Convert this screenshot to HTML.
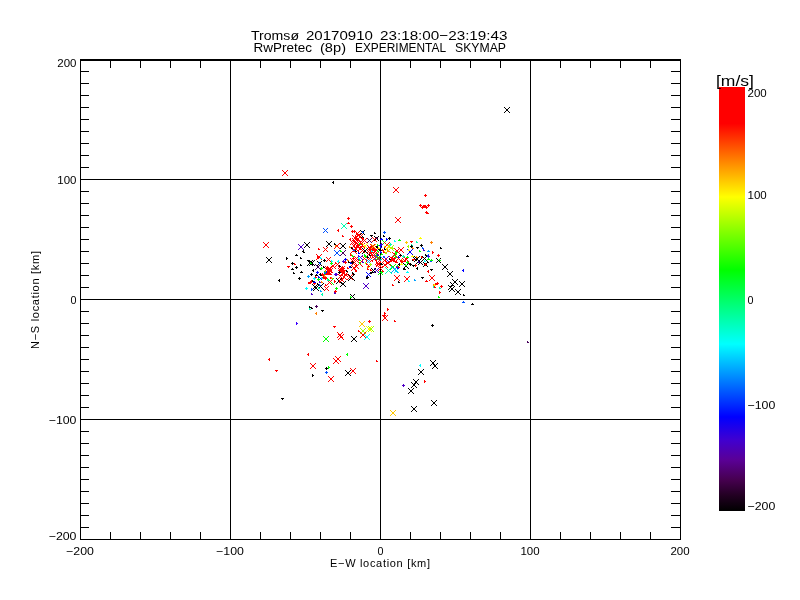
<!DOCTYPE html>
<html><head><meta charset="utf-8"><title>Tromsø skymap</title>
<style>html,body{margin:0;padding:0;background:#fff}svg{display:block}text{font-family:"Liberation Sans",sans-serif;fill:#000}</style></head><body>
<svg width="800" height="600" viewBox="0 0 800 600">
<rect width="800" height="600" fill="#fff"/>
<defs><linearGradient id="cb" x1="0" y1="0" x2="0" y2="1">
<stop offset="0.0000" stop-color="#ff0000"/>
<stop offset="0.0861" stop-color="#ff0000"/>
<stop offset="0.1722" stop-color="#ff8000"/>
<stop offset="0.2594" stop-color="#ffff00"/>
<stop offset="0.3443" stop-color="#80ff00"/>
<stop offset="0.4316" stop-color="#00ff00"/>
<stop offset="0.5189" stop-color="#00ff80"/>
<stop offset="0.6061" stop-color="#00ffff"/>
<stop offset="0.6910" stop-color="#0080ff"/>
<stop offset="0.7783" stop-color="#0000ff"/>
<stop offset="0.8325" stop-color="#4000d0"/>
<stop offset="0.8797" stop-color="#5a0096"/>
<stop offset="0.9269" stop-color="#46004f"/>
<stop offset="0.9623" stop-color="#230023"/>
<stop offset="1.0000" stop-color="#000000"/>
</linearGradient></defs>
<rect x="719" y="87" width="26" height="424" fill="url(#cb)"/>
<g fill="#000" shape-rendering="crispEdges">
<rect x="80" y="59" width="601" height="2"/>
<rect x="80" y="539" width="601" height="1"/>
<rect x="80" y="59" width="1" height="481"/>
<rect x="680" y="59" width="1" height="481"/>
<rect x="230" y="59" width="1" height="481"/>
<rect x="380" y="59" width="1" height="481"/>
<rect x="530" y="59" width="1" height="481"/>
<rect x="80" y="179" width="601" height="1"/>
<rect x="80" y="299" width="601" height="1"/>
<rect x="80" y="419" width="601" height="1"/>
<rect x="110" y="532" width="1" height="7"/>
<rect x="110" y="61" width="1" height="7"/>
<rect x="140" y="532" width="1" height="7"/>
<rect x="140" y="61" width="1" height="7"/>
<rect x="170" y="532" width="1" height="7"/>
<rect x="170" y="61" width="1" height="7"/>
<rect x="200" y="532" width="1" height="7"/>
<rect x="200" y="61" width="1" height="7"/>
<rect x="260" y="532" width="1" height="7"/>
<rect x="260" y="61" width="1" height="7"/>
<rect x="290" y="532" width="1" height="7"/>
<rect x="290" y="61" width="1" height="7"/>
<rect x="320" y="532" width="1" height="7"/>
<rect x="320" y="61" width="1" height="7"/>
<rect x="350" y="532" width="1" height="7"/>
<rect x="350" y="61" width="1" height="7"/>
<rect x="410" y="532" width="1" height="7"/>
<rect x="410" y="61" width="1" height="7"/>
<rect x="440" y="532" width="1" height="7"/>
<rect x="440" y="61" width="1" height="7"/>
<rect x="470" y="532" width="1" height="7"/>
<rect x="470" y="61" width="1" height="7"/>
<rect x="500" y="532" width="1" height="7"/>
<rect x="500" y="61" width="1" height="7"/>
<rect x="560" y="532" width="1" height="7"/>
<rect x="560" y="61" width="1" height="7"/>
<rect x="590" y="532" width="1" height="7"/>
<rect x="590" y="61" width="1" height="7"/>
<rect x="620" y="532" width="1" height="7"/>
<rect x="620" y="61" width="1" height="7"/>
<rect x="650" y="532" width="1" height="7"/>
<rect x="650" y="61" width="1" height="7"/>
<rect x="81" y="71" width="8" height="1"/>
<rect x="671" y="71" width="9" height="1"/>
<rect x="81" y="83" width="8" height="1"/>
<rect x="671" y="83" width="9" height="1"/>
<rect x="81" y="95" width="8" height="1"/>
<rect x="671" y="95" width="9" height="1"/>
<rect x="81" y="107" width="8" height="1"/>
<rect x="671" y="107" width="9" height="1"/>
<rect x="81" y="119" width="8" height="1"/>
<rect x="671" y="119" width="9" height="1"/>
<rect x="81" y="131" width="8" height="1"/>
<rect x="671" y="131" width="9" height="1"/>
<rect x="81" y="143" width="8" height="1"/>
<rect x="671" y="143" width="9" height="1"/>
<rect x="81" y="155" width="8" height="1"/>
<rect x="671" y="155" width="9" height="1"/>
<rect x="81" y="167" width="8" height="1"/>
<rect x="671" y="167" width="9" height="1"/>
<rect x="81" y="191" width="8" height="1"/>
<rect x="671" y="191" width="9" height="1"/>
<rect x="81" y="203" width="8" height="1"/>
<rect x="671" y="203" width="9" height="1"/>
<rect x="81" y="215" width="8" height="1"/>
<rect x="671" y="215" width="9" height="1"/>
<rect x="81" y="227" width="8" height="1"/>
<rect x="671" y="227" width="9" height="1"/>
<rect x="81" y="239" width="8" height="1"/>
<rect x="671" y="239" width="9" height="1"/>
<rect x="81" y="251" width="8" height="1"/>
<rect x="671" y="251" width="9" height="1"/>
<rect x="81" y="263" width="8" height="1"/>
<rect x="671" y="263" width="9" height="1"/>
<rect x="81" y="275" width="8" height="1"/>
<rect x="671" y="275" width="9" height="1"/>
<rect x="81" y="287" width="8" height="1"/>
<rect x="671" y="287" width="9" height="1"/>
<rect x="81" y="311" width="8" height="1"/>
<rect x="671" y="311" width="9" height="1"/>
<rect x="81" y="323" width="8" height="1"/>
<rect x="671" y="323" width="9" height="1"/>
<rect x="81" y="335" width="8" height="1"/>
<rect x="671" y="335" width="9" height="1"/>
<rect x="81" y="347" width="8" height="1"/>
<rect x="671" y="347" width="9" height="1"/>
<rect x="81" y="359" width="8" height="1"/>
<rect x="671" y="359" width="9" height="1"/>
<rect x="81" y="371" width="8" height="1"/>
<rect x="671" y="371" width="9" height="1"/>
<rect x="81" y="383" width="8" height="1"/>
<rect x="671" y="383" width="9" height="1"/>
<rect x="81" y="395" width="8" height="1"/>
<rect x="671" y="395" width="9" height="1"/>
<rect x="81" y="407" width="8" height="1"/>
<rect x="671" y="407" width="9" height="1"/>
<rect x="81" y="431" width="8" height="1"/>
<rect x="671" y="431" width="9" height="1"/>
<rect x="81" y="443" width="8" height="1"/>
<rect x="671" y="443" width="9" height="1"/>
<rect x="81" y="455" width="8" height="1"/>
<rect x="671" y="455" width="9" height="1"/>
<rect x="81" y="467" width="8" height="1"/>
<rect x="671" y="467" width="9" height="1"/>
<rect x="81" y="479" width="8" height="1"/>
<rect x="671" y="479" width="9" height="1"/>
<rect x="81" y="491" width="8" height="1"/>
<rect x="671" y="491" width="9" height="1"/>
<rect x="81" y="503" width="8" height="1"/>
<rect x="671" y="503" width="9" height="1"/>
<rect x="81" y="515" width="8" height="1"/>
<rect x="671" y="515" width="9" height="1"/>
<rect x="81" y="527" width="8" height="1"/>
<rect x="671" y="527" width="9" height="1"/>
</g>
<text x="251" y="39.5" font-size="13" textLength="48" lengthAdjust="spacingAndGlyphs">Tromsø</text>
<text x="306" y="39.5" font-size="13" textLength="67" lengthAdjust="spacingAndGlyphs">20170910</text>
<text x="380" y="39.5" font-size="13" textLength="127.5" lengthAdjust="spacingAndGlyphs">23:18:00−23:19:43</text>
<text x="253.5" y="52" font-size="13" textLength="58.5" lengthAdjust="spacingAndGlyphs">RwPretec</text>
<text x="320" y="52" font-size="13" textLength="26" lengthAdjust="spacingAndGlyphs">(8p)</text>
<text x="355" y="52" font-size="13" textLength="91" lengthAdjust="spacingAndGlyphs">EXPERIMENTAL</text>
<text x="455" y="52" font-size="13" textLength="51" lengthAdjust="spacingAndGlyphs">SKYMAP</text>
<text x="380" y="567" font-size="11" text-anchor="middle" textLength="100" lengthAdjust="spacing">E−W location [km]</text>
<text transform="translate(39,300) rotate(-90)" font-size="11" text-anchor="middle" textLength="98" lengthAdjust="spacing">N−S location [km]</text>
<text x="66.1" y="555" font-size="11" textLength="27.8" lengthAdjust="spacingAndGlyphs">−200</text>
<text x="216.1" y="555" font-size="11" textLength="27.8" lengthAdjust="spacingAndGlyphs">−100</text>
<text x="377.5" y="555" font-size="11" textLength="6.0" lengthAdjust="spacingAndGlyphs">0</text>
<text x="520.4" y="555" font-size="11" textLength="19.2" lengthAdjust="spacingAndGlyphs">100</text>
<text x="670.4" y="555" font-size="11" textLength="19.2" lengthAdjust="spacingAndGlyphs">200</text>
<text x="57.3" y="67" font-size="11" textLength="19.2" lengthAdjust="spacingAndGlyphs">200</text>
<text x="57.3" y="184" font-size="11" textLength="19.2" lengthAdjust="spacingAndGlyphs">100</text>
<text x="70.5" y="303.5" font-size="11" textLength="6.0" lengthAdjust="spacingAndGlyphs">0</text>
<text x="48.7" y="424" font-size="11" textLength="27.8" lengthAdjust="spacingAndGlyphs">−100</text>
<text x="48.7" y="540" font-size="11" textLength="27.8" lengthAdjust="spacingAndGlyphs">−200</text>
<text x="716" y="85.5" font-size="14" textLength="38" lengthAdjust="spacingAndGlyphs">[m/s]</text>
<text x="747.5" y="97" font-size="11" textLength="19.2" lengthAdjust="spacingAndGlyphs">200</text>
<text x="747.5" y="199" font-size="11" textLength="19.2" lengthAdjust="spacingAndGlyphs">100</text>
<text x="747.5" y="304" font-size="11" textLength="6.0" lengthAdjust="spacingAndGlyphs">0</text>
<text x="747.5" y="409" font-size="11" textLength="27.8" lengthAdjust="spacingAndGlyphs">−100</text>
<text x="747.5" y="510" font-size="11" textLength="27.8" lengthAdjust="spacingAndGlyphs">−200</text>
<g shape-rendering="crispEdges" fill="none" stroke-width="1">
<path stroke="#ff0000" d="M282 170L288 176M282 176L288 170"/>
<path stroke="#ff0000" d="M393 187L399 193M393 193L399 187"/>
<path stroke="#000000" d="M504 107L510 113M504 113L510 107"/>
<path stroke="#ff0000" d="M395 217L401 223M395 223L401 217"/>
<path stroke="#ff0000" d="M263 242L269 248M263 248L269 242"/>
<path stroke="#5000c8" d="M298 244L304 250M298 250L304 244"/>
<path stroke="#000000" d="M304 242L310 248M304 248L310 242"/>
<path stroke="#0050ff" d="M323 228L328 233M323 233L328 228"/>
<path stroke="#000000" d="M326 241L332 247M326 247L332 241"/>
<path stroke="#ff0000" d="M323 247L328 252M323 252L328 247"/>
<path stroke="#00ffb0" d="M341 223L347 229M341 229L347 223"/>
<path stroke="#000000" d="M340 243L346 249M340 249L346 243"/>
<path stroke="#ff0000" d="M334 243L340 249M334 249L340 243"/>
<path stroke="#000000" d="M266 257L272 263M266 263L272 257"/>
<path stroke="#000000" d="M307 260L313 266M307 266L313 260"/>
<path stroke="#000000" d="M309 260L315 266M309 266L315 260"/>
<path stroke="#000000" d="M308 260L313 265M308 265L313 260"/>
<path stroke="#46005a" d="M315 264L321 270M315 270L321 264"/>
<path stroke="#000000" d="M313 285L319 291M313 291L319 285"/>
<path stroke="#0050ff" d="M334 250L340 256M334 256L340 250"/>
<path stroke="#46005a" d="M340 250L346 256M340 256L346 250"/>
<path stroke="#ff0000" d="M350 247L357 254M350 254L357 247"/>
<path stroke="#ff0000" d="M316 254L322 260M316 260L322 254"/>
<path stroke="#ff0000" d="M326 257L331 262M326 262L331 257"/>
<path stroke="#000000" d="M317 261L322 266M317 266L322 261"/>
<path stroke="#ff0000" d="M330 263L336 269M330 269L336 263"/>
<path stroke="#ff0000" d="M335 262L340 267M335 267L340 262"/>
<path stroke="#ff0000" d="M325 266L332 273M325 273L332 266"/>
<path stroke="#ff0000" d="M325 268L330 273M325 273L330 268"/>
<path stroke="#ff0000" d="M327 266L332 271M327 271L332 266"/>
<path stroke="#ff0000" d="M328 268L333 273M328 273L333 268"/>
<path stroke="#ff0000" d="M338 266L345 273M338 273L345 266"/>
<path stroke="#ff0000" d="M338 266L343 271M338 271L343 266"/>
<path stroke="#ff0000" d="M340 268L345 273M340 273L345 268"/>
<path stroke="#ff0000" d="M340 266L345 271M340 271L345 266"/>
<path stroke="#ff0000" d="M338 268L343 273M338 273L343 268"/>
<path stroke="#ff0000" d="M321 274L326 279M321 279L326 274"/>
<path stroke="#ff0000" d="M322 273L327 278M322 278L327 273"/>
<path stroke="#00ff00" d="M327 278L334 285M327 285L334 278"/>
<path stroke="#ff0000" d="M327 280L332 285M327 285L332 280"/>
<path stroke="#ff0000" d="M324 286L329 291M324 291L329 286"/>
<path stroke="#000000" d="M336 278L342 284M336 284L342 278"/>
<path stroke="#000000" d="M317 283L324 290M317 290L324 283"/>
<path stroke="#000000" d="M312 284L318 290M312 290L318 284"/>
<path stroke="#ff0000" d="M340 270L346 276M340 276L346 270"/>
<path stroke="#ff0000" d="M341 274L347 280M341 280L347 274"/>
<path stroke="#ff0000" d="M339 277L345 283M339 283L345 277"/>
<path stroke="#ff0000" d="M343 272L348 277M343 277L348 272"/>
<path stroke="#ff0000" d="M338 274L343 279M338 279L343 274"/>
<path stroke="#000000" d="M340 281L346 287M340 287L346 281"/>
<path stroke="#ff0000" d="M347 274L353 280M347 280L353 274"/>
<path stroke="#000000" d="M348 274L355 281M348 281L355 274"/>
<path stroke="#0000ff" d="M366 272L371 277M366 277L371 272"/>
<path stroke="#5000c8" d="M363 283L369 289M363 289L369 283"/>
<path stroke="#000000" d="M350 294L355 299M350 299L355 294"/>
<path stroke="#000000" d="M360 230L365 235M360 235L365 230"/>
<path stroke="#000000" d="M374 236L379 241M374 241L379 236"/>
<path stroke="#ff0000" d="M355 231L360 236M355 236L360 231"/>
<path stroke="#ff0000" d="M352 235L358 241M352 241L358 235"/>
<path stroke="#ff0000" d="M354 238L359 243M354 243L359 238"/>
<path stroke="#ff0000" d="M351 243L357 249M351 249L357 243"/>
<path stroke="#ff0000" d="M356 242L361 247M356 247L361 242"/>
<path stroke="#ff0000" d="M353 246L359 252M353 252L359 246"/>
<path stroke="#ff0000" d="M362 238L367 243M362 243L367 238"/>
<path stroke="#ff0000" d="M358 246L363 251M358 251L363 246"/>
<path stroke="#ff0000" d="M360 248L365 253M360 253L365 248"/>
<path stroke="#ff0000" d="M357 234L363 240M357 240L363 234"/>
<path stroke="#ff0000" d="M355 236L361 242M355 242L361 236"/>
<path stroke="#ff0000" d="M353 240L359 246M353 246L359 240"/>
<path stroke="#ff0000" d="M358 240L363 245M358 245L363 240"/>
<path stroke="#ff0000" d="M360 243L365 248M360 248L365 243"/>
<path stroke="#ff0000" d="M355 244L361 250M355 250L361 244"/>
<path stroke="#ff0000" d="M350 240L355 245M350 245L355 240"/>
<path stroke="#ff0000" d="M352 238L357 243M352 243L357 238"/>
<path stroke="#ff0000" d="M356 233L361 238M356 238L361 233"/>
<path stroke="#ff0000" d="M372 237L377 242M372 242L377 237"/>
<path stroke="#ff0000" d="M367 245L373 251M367 251L373 245"/>
<path stroke="#ff0000" d="M370 244L375 249M370 249L375 244"/>
<path stroke="#ff0000" d="M369 249L375 255M369 255L375 249"/>
<path stroke="#ff0000" d="M368 247L373 252M368 252L373 247"/>
<path stroke="#ff0000" d="M367 248L372 253M367 253L372 248"/>
<path stroke="#ff0000" d="M370 246L376 252M370 252L376 246"/>
<path stroke="#ff0000" d="M373 247L379 253M373 253L379 247"/>
<path stroke="#ff0000" d="M367 250L373 256M367 256L373 250"/>
<path stroke="#ff0000" d="M370 252L375 257M370 257L375 252"/>
<path stroke="#46005a" d="M367 238L372 243M367 243L372 238"/>
<path stroke="#ffff00" d="M362 243L368 249M362 249L368 243"/>
<path stroke="#000000" d="M362 248L368 254M362 254L368 248"/>
<path stroke="#ffc800" d="M371 244L376 249M371 249L376 244"/>
<path stroke="#00ff00" d="M382 240L387 245M382 245L387 240"/>
<path stroke="#ff0000" d="M384 242L390 248M384 248L390 242"/>
<path stroke="#ffff00" d="M384 246L390 252M384 252L390 246"/>
<path stroke="#ff8000" d="M386 248L391 253M386 253L391 248"/>
<path stroke="#a0ff00" d="M388 245L394 251M388 251L394 245"/>
<path stroke="#ffc800" d="M386 244L391 249M386 249L391 244"/>
<path stroke="#000000" d="M377 246L382 251M377 251L382 246"/>
<path stroke="#3c00ff" d="M358 255L363 260M358 260L363 255"/>
<path stroke="#ff0000" d="M356 260L363 267M356 267L363 260"/>
<path stroke="#ff0000" d="M352 260L357 265M352 265L357 260"/>
<path stroke="#ff0000" d="M351 265L357 271M351 271L357 265"/>
<path stroke="#ff0000" d="M354 256L359 261M354 261L359 256"/>
<path stroke="#ff0000" d="M350 258L355 263M350 263L355 258"/>
<path stroke="#ff0000" d="M354 264L359 269M354 269L359 264"/>
<path stroke="#ff0000" d="M362 256L367 261M362 261L367 256"/>
<path stroke="#ff0000" d="M366 257L371 262M366 262L371 257"/>
<path stroke="#ff0000" d="M368 257L373 262M368 262L373 257"/>
<path stroke="#ff0000" d="M372 256L377 261M372 261L377 256"/>
<path stroke="#00a0ff" d="M366 259L371 264M366 264L371 259"/>
<path stroke="#000000" d="M371 268L376 273M371 273L376 268"/>
<path stroke="#5000c8" d="M374 268L379 273M374 273L379 268"/>
<path stroke="#00ff00" d="M378 270L383 275M378 275L383 270"/>
<path stroke="#ff0000" d="M376 261L381 266M376 266L381 261"/>
<path stroke="#ff0000" d="M375 260L380 265M375 265L380 260"/>
<path stroke="#ff0000" d="M376 262L381 267M376 267L381 262"/>
<path stroke="#ff0000" d="M378 266L383 271M378 271L383 266"/>
<path stroke="#ff0000" d="M378 266L383 271M378 271L383 266"/>
<path stroke="#ff0000" d="M372 252L377 257M372 257L377 252"/>
<path stroke="#ff0000" d="M374 254L379 259M374 259L379 254"/>
<path stroke="#ff0000" d="M376 256L381 261M376 261L381 256"/>
<path stroke="#ff0000" d="M373 253L378 258M373 258L378 253"/>
<path stroke="#00a0ff" d="M374 255L379 260M374 260L379 255"/>
<path stroke="#00ff00" d="M376 255L381 260M376 260L381 255"/>
<path stroke="#00a0ff" d="M380 256L385 261M380 261L385 256"/>
<path stroke="#3c00ff" d="M383 256L389 262M383 262L389 256"/>
<path stroke="#ff0000" d="M382 262L388 268M382 268L388 262"/>
<path stroke="#ff0000" d="M382 258L387 263M382 263L387 258"/>
<path stroke="#ff0000" d="M389 256L396 263M389 263L396 256"/>
<path stroke="#ff0000" d="M391 257L396 262M391 262L396 257"/>
<path stroke="#ff0000" d="M385 260L391 266M385 266L391 260"/>
<path stroke="#00ff00" d="M392 252L398 258M392 258L398 252"/>
<path stroke="#ff0000" d="M392 252L397 257M392 257L397 252"/>
<path stroke="#00ff00" d="M390 264L396 270M390 270L396 264"/>
<path stroke="#00ffb0" d="M385 267L392 274M385 274L392 267"/>
<path stroke="#00a0ff" d="M391 266L398 273M391 273L398 266"/>
<path stroke="#00ffff" d="M394 268L399 273M394 273L399 268"/>
<path stroke="#ff0000" d="M398 247L404 253M398 253L404 247"/>
<path stroke="#ff0000" d="M394 248L400 254M394 254L400 248"/>
<path stroke="#0000ff" d="M407 249L413 255M407 255L413 249"/>
<path stroke="#0050ff" d="M425 254L429 258M425 258L429 254"/>
<path stroke="#000000" d="M414 256L420 262M414 262L420 256"/>
<path stroke="#000000" d="M416 258L422 264M416 264L422 258"/>
<path stroke="#000000" d="M412 256L417 261M412 261L417 256"/>
<path stroke="#000000" d="M418 260L423 265M418 265L423 260"/>
<path stroke="#000000" d="M422 256L427 261M422 261L427 256"/>
<path stroke="#000000" d="M423 262L428 267M423 267L428 262"/>
<path stroke="#ff0000" d="M404 257L409 262M404 262L409 257"/>
<path stroke="#ff0000" d="M402 258L407 263M402 263L407 258"/>
<path stroke="#ff0000" d="M396 256L401 261M396 261L401 256"/>
<path stroke="#000000" d="M403 263L409 269M403 269L409 263"/>
<path stroke="#000000" d="M436 258L441 263M436 263L441 258"/>
<path stroke="#000000" d="M442 264L448 270M442 270L448 264"/>
<path stroke="#000000" d="M447 271L453 277M447 277L453 271"/>
<path stroke="#000000" d="M452 279L458 285M452 285L458 279"/>
<path stroke="#000000" d="M459 281L465 287M459 287L465 281"/>
<path stroke="#000000" d="M450 282L455 287M450 287L455 282"/>
<path stroke="#000000" d="M449 286L455 292M449 292L455 286"/>
<path stroke="#000000" d="M448 285L453 290M448 290L453 285"/>
<path stroke="#000000" d="M455 289L461 295M455 295L461 289"/>
<path stroke="#ff0000" d="M429 275L435 281M429 281L435 275"/>
<path stroke="#ff0000" d="M394 275L400 281M394 281L400 275"/>
<path stroke="#ff0000" d="M404 276L410 282M404 282L410 276"/>
<path stroke="#00ff00" d="M323 336L329 342M323 342L329 336"/>
<path stroke="#ff0000" d="M337 332L343 338M337 338L343 332"/>
<path stroke="#ff0000" d="M338 334L344 340M338 340L344 334"/>
<path stroke="#000000" d="M351 336L357 342M351 342L357 336"/>
<path stroke="#ffc800" d="M359 321L365 327M359 327L365 321"/>
<path stroke="#a0ff00" d="M360 328L366 334M360 334L366 328"/>
<path stroke="#ffff00" d="M366 326L372 332M366 332L372 326"/>
<path stroke="#a0ff00" d="M368 326L374 332M368 332L374 326"/>
<path stroke="#ff0000" d="M360 332L366 338M360 338L366 332"/>
<path stroke="#00ffff" d="M364 334L370 340M364 340L370 334"/>
<path stroke="#ff0000" d="M382 315L388 321M382 321L388 315"/>
<path stroke="#ff0000" d="M310 363L316 369M310 369L316 363"/>
<path stroke="#ff0000" d="M328 376L334 382M328 382L334 376"/>
<path stroke="#ff0000" d="M333 358L339 364M333 364L339 358"/>
<path stroke="#ff0000" d="M335 356L341 362M335 362L341 356"/>
<path stroke="#ff0000" d="M350 368L356 374M350 374L356 368"/>
<path stroke="#000000" d="M345 370L351 376M345 376L351 370"/>
<path stroke="#000000" d="M430 360L436 366M430 366L436 360"/>
<path stroke="#000000" d="M432 363L438 369M432 369L438 363"/>
<path stroke="#000000" d="M418 369L424 375M418 375L424 369"/>
<path stroke="#000000" d="M413 379L419 385M413 385L419 379"/>
<path stroke="#000000" d="M411 382L417 388M411 388L417 382"/>
<path stroke="#000000" d="M408 388L414 394M408 394L414 388"/>
<path stroke="#000000" d="M431 400L437 406M431 406L437 400"/>
<path stroke="#000000" d="M411 406L417 412M411 412L417 406"/>
<path stroke="#ffc800" d="M390 410L396 416M390 416L396 410"/>
</g><g shape-rendering="crispEdges" stroke="none">
<path fill="#000000" d="M333 181h1v3h-1v-1h-1v-1h1z"/>
<path fill="#ff0000" d="M425 194h1v1h1v1h-1v1h-1v-1h-1v-1h1z"/>
<path fill="#ff0000" d="M420 204h1v1h1v1h-1v1h-1v-1h-1v-1h1z"/>
<path fill="#ff0000" d="M428 204h1v1h1v1h-1v1h-1v-1h-1v-1h1z"/>
<path fill="#ff0000" d="M422 206h1v1h1v1h-1v1h-1v-1h-1v-1h1z"/>
<path fill="#ff0000" d="M426 206h1v1h1v1h-1v1h-1v-1h-1v-1h1z"/>
<path fill="#ff0000" d="M425 205h1v1h1v1h-1v1h-1v-1h-1v-1h1z"/>
<path fill="#ff0000" d="M424 205h1v1h1v1h-1v1h-1v-1h-1v-1h1z"/>
<path fill="#ff0000" d="M423 205h1v1h1v1h-1v1h-1v-1h-1v-1h1z"/>
<path fill="#ff0000" d="M426 211h1v3h-1v-1h-1v-1h1z"/>
<path fill="#ff0000" d="M427 212h1v1h1v1h-2z"/>
<path fill="#ff0000" d="M318 248h1v1h1v1h-2z"/>
<path fill="#000000" d="M303 251h1v1h1v1h-2z"/>
<path fill="#ff0000" d="M348 217h1v1h1v1h-1v1h-1v-1h-1v-1h1z"/>
<path fill="#ff0000" d="M348 222h1v1h1v1h-3v-1h1z"/>
<path fill="#ff0000" d="M351 225h1v1h1v1h-1v1h-1v-1h-1v-1h1z"/>
<path fill="#ff0000" d="M338 229h1v3h-1v-1h-1v-1h1z"/>
<path fill="#ff0000" d="M352 230h1v1h1v1h-1v1h-1v-1h-1v-1h1z"/>
<path fill="#ff0000" d="M354 230h1v1h1v1h-1v1h-1v-1h-1v-1h1z"/>
<path fill="#ff0000" d="M342 235h1v1h1v1h-2z"/>
<path fill="#ff0000" d="M350 238h1v3h-1v-1h-1v-1h1z"/>
<path fill="#000000" d="M334 243h1v1h1v1h-2z"/>
<path fill="#ff8000" d="M349 246h1v1h1v1h-2z"/>
<path fill="#ff8000" d="M335 245h1v1h1v1h-2z"/>
<path fill="#000000" d="M303 250h1v3h-1v-1h-1v-1h1z"/>
<path fill="#000000" d="M296 254h1v1h1v1h-3v-1h1z"/>
<path fill="#000000" d="M300 257h1v1h1v1h-2z"/>
<path fill="#000000" d="M286 257h1v1h1v1h-1v1h-1z"/>
<path fill="#000000" d="M292 262h1v1h1v1h-1v1h-1v-1h-1v-1h1z"/>
<path fill="#ff0000" d="M294 263h1v1h1v1h-2z"/>
<path fill="#ff0000" d="M287 266h3v1h-1v1h-1v-1h-1z"/>
<path fill="#000000" d="M292 268h1v1h1v1h-3v-1h1z"/>
<path fill="#000000" d="M296 266h1v1h1v1h-1v1h-1v-1h-1v-1h1z"/>
<path fill="#000000" d="M300 264h1v1h1v1h-2z"/>
<path fill="#000000" d="M293 272h1v1h1v1h-2z"/>
<path fill="#000000" d="M301 271h1v1h1v1h-3v-1h1z"/>
<path fill="#000000" d="M299 277h1v1h1v1h-1v1h-1v-1h-1v-1h1z"/>
<path fill="#000000" d="M279 279h1v3h-1v-1h-1v-1h1z"/>
<path fill="#00ff00" d="M310 262h1v1h1v1h-2z"/>
<path fill="#ff0000" d="M318 256h1v1h1v1h-1v1h-1v-1h-1v-1h1z"/>
<path fill="#ff0000" d="M317 256h1v1h1v1h-2z"/>
<path fill="#000000" d="M313 269h1v3h-1v-1h-1v-1h1z"/>
<path fill="#0000ff" d="M317 271h1v1h1v1h-1v1h-1v-1h-1v-1h1z"/>
<path fill="#000000" d="M311 273h1v1h1v1h-1v1h-1v-1h-1v-1h1z"/>
<path fill="#00a0ff" d="M308 275h1v1h1v1h-1v1h-1v-1h-1v-1h1z"/>
<path fill="#000000" d="M316 274h1v1h1v1h-3v-1h1z"/>
<path fill="#ff0000" d="M315 276h1v1h1v1h-2z"/>
<path fill="#00ffff" d="M314 277h1v1h1v1h-1v1h-1v-1h-1v-1h1z"/>
<path fill="#ff0000" d="M308 282h1v1h1v1h-2z"/>
<path fill="#ff0000" d="M309 282h1v1h1v1h-2z"/>
<path fill="#ff0000" d="M310 281h1v1h1v1h-2z"/>
<path fill="#ff0000" d="M311 280h1v1h1v1h-2z"/>
<path fill="#ff0000" d="M308 282h1v1h1v1h-2z"/>
<path fill="#ff0000" d="M310 281h1v1h1v1h-2z"/>
<path fill="#000000" d="M312 280h1v1h1v1h-2z"/>
<path fill="#0000ff" d="M314 281h1v1h1v1h-3v-1h1z"/>
<path fill="#ff0000" d="M313 283h3v1h-1v1h-1v-1h-1z"/>
<path fill="#00ffff" d="M306 287h1v1h1v1h-1v1h-1v-1h-1v-1h1z"/>
<path fill="#0050ff" d="M311 288h1v1h1v1h-1v1h-1z"/>
<path fill="#5000c8" d="M311 293h1v1h1v1h-2z"/>
<path fill="#ff0000" d="M318 248h1v1h1v1h-2z"/>
<path fill="#00ff00" d="M340 250h1v1h1v1h-2z"/>
<path fill="#0050ff" d="M353 249h1v1h1v1h-2z"/>
<path fill="#a0ff00" d="M351 254h1v1h1v1h-2z"/>
<path fill="#ff0000" d="M350 254h1v1h1v1h-2z"/>
<path fill="#00ffff" d="M320 257h1v1h1v1h-2z"/>
<path fill="#000000" d="M324 259h1v1h1v1h-1v1h-1v-1h-1v-1h1z"/>
<path fill="#00ffff" d="M331 260h1v1h1v1h-2z"/>
<path fill="#00ffff" d="M338 260h1v3h-1v-1h-1v-1h1z"/>
<path fill="#00ff00" d="M331 262h1v1h1v1h-1v1h-1v-1h-1v-1h1z"/>
<path fill="#ff0000" d="M353 257h1v1h1v1h-3v-1h1z"/>
<path fill="#0000ff" d="M345 258h1v1h1v1h-1v1h-1v-1h-1v-1h1z"/>
<path fill="#5000c8" d="M343 260h1v1h1v1h-1v1h-1v-1h-1v-1h1z"/>
<path fill="#ff8000" d="M347 259h1v1h1v1h-2z"/>
<path fill="#000000" d="M348 261h1v1h1v1h-2z"/>
<path fill="#ff0000" d="M345 261h1v1h1v1h-1v1h-1v-1h-1v-1h1z"/>
<path fill="#0000ff" d="M350 262h1v1h1v1h-2z"/>
<path fill="#000000" d="M352 261h1v1h1v1h-1v1h-1v-1h-1v-1h1z"/>
<path fill="#0050ff" d="M319 262h1v1h1v1h-2z"/>
<path fill="#00ff00" d="M321 267h1v1h1v1h-1v1h-1v-1h-1v-1h1z"/>
<path fill="#000000" d="M323 266h1v1h1v1h-2z"/>
<path fill="#ff0000" d="M341 268h1v1h1v1h-1v1h-1v-1h-1v-1h1z"/>
<path fill="#ff0000" d="M343 269h1v1h1v1h-1v1h-1v-1h-1v-1h1z"/>
<path fill="#ff0000" d="M340 269h1v1h1v1h-1v1h-1v-1h-1v-1h1z"/>
<path fill="#ff0000" d="M342 267h1v1h1v1h-1v1h-1v-1h-1v-1h1z"/>
<path fill="#ff0000" d="M341 270h1v1h1v1h-1v1h-1v-1h-1v-1h1z"/>
<path fill="#ff0000" d="M328 270h1v1h1v1h-1v1h-1v-1h-1v-1h1z"/>
<path fill="#ff0000" d="M330 269h1v1h1v1h-1v1h-1v-1h-1v-1h1z"/>
<path fill="#ff0000" d="M327 267h1v1h1v1h-1v1h-1v-1h-1v-1h1z"/>
<path fill="#000000" d="M339 265h1v1h1v1h-2z"/>
<path fill="#000000" d="M339 271h1v1h1v1h-1v1h-1v-1h-1v-1h1z"/>
<path fill="#3c00ff" d="M335 273h1v1h1v1h-3v-1h1z"/>
<path fill="#00ff00" d="M324 271h1v1h1v1h-2z"/>
<path fill="#ff8000" d="M325 270h1v1h1v1h-2z"/>
<path fill="#0000ff" d="M326 271h1v1h1v1h-2z"/>
<path fill="#000000" d="M321 274h1v1h1v1h-2z"/>
<path fill="#ff0000" d="M347 267h1v1h1v1h-2z"/>
<path fill="#000000" d="M350 266h1v1h1v1h-3v-1h1z"/>
<path fill="#0000ff" d="M349 266h1v1h1v1h-2z"/>
<path fill="#ff0000" d="M354 268h1v1h1v1h-2z"/>
<path fill="#000000" d="M346 270h1v1h1v1h-2z"/>
<path fill="#000000" d="M353 273h1v1h1v1h-2z"/>
<path fill="#000000" d="M320 273h1v1h1v1h-1v1h-1v-1h-1v-1h1z"/>
<path fill="#0000ff" d="M318 276h1v1h1v1h-2z"/>
<path fill="#00ff00" d="M318 278h1v1h1v1h-1v1h-1v-1h-1v-1h1z"/>
<path fill="#5000c8" d="M319 281h1v1h1v1h-2z"/>
<path fill="#ff8000" d="M321 281h1v1h1v1h-2z"/>
<path fill="#0000ff" d="M321 277h1v1h1v1h-1v1h-1v-1h-1v-1h1z"/>
<path fill="#00ffff" d="M321 277h1v1h1v1h-2z"/>
<path fill="#ff0000" d="M323 276h1v1h1v1h-1v1h-1v-1h-1v-1h1z"/>
<path fill="#ff0000" d="M323 274h1v1h1v1h-1v1h-1v-1h-1v-1h1z"/>
<path fill="#ff0000" d="M324 276h1v1h1v1h-1v1h-1v-1h-1v-1h1z"/>
<path fill="#ff0000" d="M322 273h1v1h1v1h-1v1h-1v-1h-1v-1h1z"/>
<path fill="#ff0000" d="M324 275h1v1h1v1h-1v1h-1v-1h-1v-1h1z"/>
<path fill="#ff0000" d="M325 277h1v1h1v1h-1v1h-1v-1h-1v-1h1z"/>
<path fill="#00ff00" d="M324 273h1v1h1v1h-2z"/>
<path fill="#ff8000" d="M324 275h1v1h1v1h-2z"/>
<path fill="#0050ff" d="M324 272h1v1h1v1h-2z"/>
<path fill="#ff0000" d="M328 272h1v1h1v1h-3v-1h1z"/>
<path fill="#ff0000" d="M328 271h1v1h1v1h-3v-1h1z"/>
<path fill="#ff0000" d="M328 272h1v1h1v1h-1v1h-1v-1h-1v-1h1z"/>
<path fill="#ff0000" d="M327 272h1v1h1v1h-3v-1h1z"/>
<path fill="#ff0000" d="M329 272h1v1h1v1h-3v-1h1z"/>
<path fill="#ff0000" d="M330 273h1v1h1v1h-3v-1h1z"/>
<path fill="#ff0000" d="M326 273h1v1h1v1h-3v-1h1z"/>
<path fill="#5000c8" d="M335 274h1v1h1v1h-2z"/>
<path fill="#5000c8" d="M336 273h1v1h1v1h-2z"/>
<path fill="#ff0000" d="M330 277h1v1h1v1h-2z"/>
<path fill="#ff8000" d="M331 277h1v1h1v1h-2z"/>
<path fill="#00ffb0" d="M327 279h1v1h1v1h-2z"/>
<path fill="#ff0000" d="M334 280h1v1h1v1h-1v1h-1z"/>
<path fill="#ff0000" d="M325 284h1v1h1v1h-2z"/>
<path fill="#ff0000" d="M339 280h1v1h1v1h-2z"/>
<path fill="#0050ff" d="M319 284h1v1h1v1h-2z"/>
<path fill="#00ffb0" d="M318 287h1v1h1v1h-2z"/>
<path fill="#00a0ff" d="M320 290h1v1h1v1h-2z"/>
<path fill="#00ffb0" d="M322 293h1v3h-1v-1h-1v-1h1z"/>
<path fill="#00ff00" d="M336 287h1v1h1v1h-1v1h-1v-1h-1v-1h1z"/>
<path fill="#ff0000" d="M335 290h1v1h1v1h-1v1h-1v-1h-1v-1h1z"/>
<path fill="#5000c8" d="M334 292h1v1h1v1h-2z"/>
<path fill="#ff0000" d="M355 270h1v1h1v1h-2z"/>
<path fill="#000000" d="M352 272h1v1h1v1h-2z"/>
<path fill="#000000" d="M370 272h1v1h1v1h-2z"/>
<path fill="#000000" d="M372 271h1v1h1v1h-2z"/>
<path fill="#000000" d="M366 277h1v1h1v1h-2z"/>
<path fill="#000000" d="M367 276h1v1h1v1h-2z"/>
<path fill="#00ff00" d="M350 296h1v1h1v1h-2z"/>
<path fill="#0050ff" d="M362 231h1v1h1v1h-2z"/>
<path fill="#000000" d="M362 236h1v1h1v1h-1v1h-1v-1h-1v-1h1z"/>
<path fill="#ff0000" d="M362 237h1v1h1v1h-2z"/>
<path fill="#000000" d="M374 232h1v1h1v1h-2z"/>
<path fill="#000000" d="M370 235h3v1h-1v1h-1v-1h-1z"/>
<path fill="#46005a" d="M376 237h1v1h1v1h-2z"/>
<path fill="#00ff00" d="M359 243h1v1h1v1h-2z"/>
<path fill="#000000" d="M351 247h1v1h1v1h-2z"/>
<path fill="#000000" d="M355 250h1v1h1v1h-2z"/>
<path fill="#0000ff" d="M358 252h1v1h1v1h-2z"/>
<path fill="#00ffff" d="M371 250h1v1h1v1h-2z"/>
<path fill="#000000" d="M376 246h1v1h1v1h-2z"/>
<path fill="#00ff00" d="M377 244h1v1h1v1h-2z"/>
<path fill="#0000ff" d="M380 244h1v1h1v1h-1v1h-1v-1h-1v-1h1z"/>
<path fill="#0000ff" d="M380 244h1v1h1v1h-2z"/>
<path fill="#0000ff" d="M380 246h1v1h1v1h-2z"/>
<path fill="#5000c8" d="M381 243h1v1h1v1h-2z"/>
<path fill="#0050ff" d="M384 231h1v1h1v1h-1v1h-1v-1h-1v-1h1z"/>
<path fill="#000000" d="M383 235h1v1h1v1h-2z"/>
<path fill="#000000" d="M389 237h1v1h1v1h-1v1h-1v-1h-1v-1h1z"/>
<path fill="#0000ff" d="M386 238h1v1h1v1h-1v1h-1z"/>
<path fill="#0000ff" d="M381 238h1v1h1v1h-3v-1h1z"/>
<path fill="#00ffb0" d="M390 243h1v1h1v1h-1v1h-1v-1h-1v-1h1z"/>
<path fill="#a0ff00" d="M392 247h1v1h1v1h-2z"/>
<path fill="#000000" d="M384 248h1v1h1v1h-2z"/>
<path fill="#a0ff00" d="M385 252h1v1h1v1h-2z"/>
<path fill="#ff8000" d="M387 250h1v1h1v1h-2z"/>
<path fill="#ffff00" d="M378 247h1v1h1v1h-2z"/>
<path fill="#000000" d="M379 249h1v1h1v1h-2z"/>
<path fill="#00ff00" d="M377 250h1v1h1v1h-2z"/>
<path fill="#0000ff" d="M380 251h1v1h1v1h-2z"/>
<path fill="#ff0000" d="M382 249h1v1h1v1h-2z"/>
<path fill="#ff0000" d="M383 251h1v1h1v1h-2z"/>
<path fill="#00ff00" d="M381 253h1v1h1v1h-2z"/>
<path fill="#00ff00" d="M352 255h1v1h1v1h-2z"/>
<path fill="#3c00ff" d="M358 255h1v1h1v1h-2z"/>
<path fill="#00ff00" d="M364 254h1v1h1v1h-2z"/>
<path fill="#5000c8" d="M369 254h1v1h1v1h-2z"/>
<path fill="#00ff00" d="M376 253h1v1h1v1h-2z"/>
<path fill="#0000ff" d="M377 254h1v1h1v1h-2z"/>
<path fill="#00ffff" d="M358 257h1v1h1v1h-2z"/>
<path fill="#00ff00" d="M359 259h1v1h1v1h-2z"/>
<path fill="#00ff00" d="M359 262h1v1h1v1h-2z"/>
<path fill="#5000c8" d="M362 261h1v1h1v1h-2z"/>
<path fill="#00ff00" d="M365 255h1v1h1v1h-1v1h-1v-1h-1v-1h1z"/>
<path fill="#000000" d="M367 256h1v1h1v1h-2z"/>
<path fill="#000000" d="M369 254h1v1h1v1h-2z"/>
<path fill="#a0ff00" d="M365 262h1v1h1v1h-2z"/>
<path fill="#00a0ff" d="M370 263h1v1h1v1h-2z"/>
<path fill="#a0ff00" d="M370 263h1v1h1v1h-1v1h-1v-1h-1v-1h1z"/>
<path fill="#ff0000" d="M368 265h1v1h1v1h-2z"/>
<path fill="#ff0000" d="M367 268h1v1h1v1h-2z"/>
<path fill="#ff0000" d="M370 269h1v1h1v1h-2z"/>
<path fill="#ff8000" d="M367 266h1v1h1v1h-2z"/>
<path fill="#ff0000" d="M366 263h1v1h1v1h-2z"/>
<path fill="#000000" d="M381 263h1v1h1v1h-3v-1h1z"/>
<path fill="#000000" d="M389 258h1v1h1v1h-2z"/>
<path fill="#ff0000" d="M392 257h1v1h1v1h-1v1h-1v-1h-1v-1h1z"/>
<path fill="#ff0000" d="M393 259h1v1h1v1h-1v1h-1v-1h-1v-1h1z"/>
<path fill="#ff0000" d="M391 259h1v1h1v1h-1v1h-1v-1h-1v-1h1z"/>
<path fill="#ff0000" d="M394 257h1v1h1v1h-1v1h-1v-1h-1v-1h1z"/>
<path fill="#00ff00" d="M381 271h1v1h1v1h-2z"/>
<path fill="#ff0000" d="M382 270h1v1h1v1h-2z"/>
<path fill="#00ffff" d="M394 240h1v1h1v1h-2z"/>
<path fill="#00ff00" d="M399 239h1v1h1v1h-3v-1h1z"/>
<path fill="#ffc800" d="M406 241h1v1h1v1h-1v1h-1v-1h-1v-1h1z"/>
<path fill="#ff0000" d="M410 241h3v1h-1v1h-1v-1h-1z"/>
<path fill="#00ffb0" d="M411 244h1v1h1v1h-2z"/>
<path fill="#000000" d="M411 245h1v1h1v1h-1v1h-1v-1h-1v-1h1z"/>
<path fill="#a0ff00" d="M408 245h1v3h-1v-1h-1v-1h1z"/>
<path fill="#ff8000" d="M412 247h1v1h1v1h-2z"/>
<path fill="#00ffb0" d="M416 241h1v1h1v1h-2z"/>
<path fill="#ffff00" d="M420 237h1v1h1v1h-3v-1h1z"/>
<path fill="#000000" d="M421 244h1v1h1v1h-1v1h-1v-1h-1v-1h1z"/>
<path fill="#0050ff" d="M422 247h1v1h1v1h-2z"/>
<path fill="#5000c8" d="M423 249h1v1h1v1h-2z"/>
<path fill="#ff8000" d="M431 241h1v1h1v1h-1v1h-1v-1h-1v-1h1z"/>
<path fill="#000000" d="M416 247h3v1h-1v1h-1v-1h-1z"/>
<path fill="#00ff00" d="M419 250h1v1h1v1h-2z"/>
<path fill="#ffff00" d="M408 249h1v1h1v1h-2z"/>
<path fill="#00a0ff" d="M428 250h1v1h1v1h-3v-1h1z"/>
<path fill="#ff0000" d="M432 251h1v1h1v1h-1v1h-1z"/>
<path fill="#000000" d="M425 254h1v1h1v1h-2z"/>
<path fill="#5000c8" d="M428 255h1v1h1v1h-2z"/>
<path fill="#ff0000" d="M421 256h1v1h1v1h-2z"/>
<path fill="#ff8000" d="M416 256h1v1h1v1h-2z"/>
<path fill="#ffff00" d="M412 255h1v1h1v1h-3v-1h1z"/>
<path fill="#000000" d="M400 254h1v1h1v1h-3v-1h1z"/>
<path fill="#0000ff" d="M398 256h1v1h1v1h-2z"/>
<path fill="#00ffb0" d="M403 255h1v1h1v1h-1v1h-1v-1h-1v-1h1z"/>
<path fill="#00ff00" d="M395 256h1v1h1v1h-2z"/>
<path fill="#00ff00" d="M407 256h1v1h1v1h-3v-1h1z"/>
<path fill="#5000c8" d="M418 261h1v1h1v1h-2z"/>
<path fill="#ff0000" d="M412 259h3v1h-1v1h-1v-1h-1z"/>
<path fill="#00ffff" d="M424 260h1v1h1v1h-2z"/>
<path fill="#ff0000" d="M425 263h1v1h1v1h-1v1h-1v-1h-1v-1h1z"/>
<path fill="#000000" d="M427 261h1v1h1v1h-2z"/>
<path fill="#00ff00" d="M428 258h1v1h1v1h-3v-1h1z"/>
<path fill="#0050ff" d="M430 260h1v1h1v1h-2z"/>
<path fill="#00ff00" d="M431 259h1v1h1v1h-3v-1h1z"/>
<path fill="#ff0000" d="M396 261h1v1h1v1h-2z"/>
<path fill="#ff8000" d="M401 259h1v1h1v1h-2z"/>
<path fill="#00ff00" d="M407 261h1v1h1v1h-1v1h-1v-1h-1v-1h1z"/>
<path fill="#ff0000" d="M401 260h1v1h1v1h-1v1h-1v-1h-1v-1h1z"/>
<path fill="#ffff00" d="M401 263h1v1h1v1h-3v-1h1z"/>
<path fill="#000000" d="M399 263h1v3h-1v-1h-1v-1h1z"/>
<path fill="#ff0000" d="M409 263h1v1h1v1h-2z"/>
<path fill="#000000" d="M410 263h1v1h1v1h-1v1h-1v-1h-1v-1h1z"/>
<path fill="#00ff00" d="M405 264h1v1h1v1h-2z"/>
<path fill="#000000" d="M404 268h1v1h1v1h-3v-1h1z"/>
<path fill="#ff0000" d="M415 264h1v1h1v1h-1v1h-1z"/>
<path fill="#000000" d="M412 265h3v1h-1v1h-1v-1h-1z"/>
<path fill="#000000" d="M417 267h1v3h-1v-1h-1v-1h1z"/>
<path fill="#00ffff" d="M407 271h1v1h1v1h-3v-1h1z"/>
<path fill="#ff0000" d="M428 270h1v3h-1v-1h-1v-1h1z"/>
<path fill="#000000" d="M430 269h3v1h-1v1h-1v-1h-1z"/>
<path fill="#00ff00" d="M397 265h1v1h1v1h-2z"/>
<path fill="#5000c8" d="M396 266h1v1h1v1h-2z"/>
<path fill="#ff0000" d="M398 266h1v1h1v1h-2z"/>
<path fill="#0000ff" d="M397 267h1v1h1v1h-2z"/>
<path fill="#00ff00" d="M395 253h1v1h1v1h-2z"/>
<path fill="#00ff00" d="M395 251h1v1h1v1h-2z"/>
<path fill="#000000" d="M440 247h1v1h1v1h-2z"/>
<path fill="#ff0000" d="M438 254h1v1h1v1h-1v1h-1v-1h-1v-1h1z"/>
<path fill="#00ff00" d="M439 259h1v1h1v1h-2z"/>
<path fill="#000000" d="M467 255h1v1h1v1h-3v-1h1z"/>
<path fill="#000000" d="M463 294h1v1h1v1h-2z"/>
<path fill="#0000ff" d="M463 269h1v3h-1v-1h-1v-1h1z"/>
<path fill="#ff0000" d="M426 280h1v1h1v1h-3v-1h1z"/>
<path fill="#ff0000" d="M437 282h1v1h1v1h-1v1h-1v-1h-1v-1h1z"/>
<path fill="#ff8000" d="M433 284h1v1h1v1h-2z"/>
<path fill="#ffff00" d="M434 284h1v1h1v1h-2z"/>
<path fill="#ff0000" d="M435 283h1v1h1v1h-2z"/>
<path fill="#00ffb0" d="M433 286h1v1h1v1h-2z"/>
<path fill="#ff0000" d="M434 286h1v1h1v1h-2z"/>
<path fill="#ff0000" d="M441 285h1v1h1v1h-1v1h-1v-1h-1v-1h1z"/>
<path fill="#00ffb0" d="M439 287h1v1h1v1h-2z"/>
<path fill="#ff0000" d="M439 291h1v1h1v1h-1v1h-1z"/>
<path fill="#00ff00" d="M438 296h1v1h1v1h-2z"/>
<path fill="#0050ff" d="M463 301h1v1h1v1h-3v-1h1z"/>
<path fill="#000000" d="M472 303h1v1h1v1h-3v-1h1z"/>
<path fill="#00ffff" d="M408 280h1v1h1v1h-2z"/>
<path fill="#000000" d="M398 281h1v1h1v1h-2z"/>
<path fill="#00a0ff" d="M414 279h1v1h1v1h-2z"/>
<path fill="#000000" d="M421 277h3v1h-1v1h-1v-1h-1z"/>
<path fill="#ff0000" d="M392 284h1v1h1v1h-2z"/>
<path fill="#000000" d="M309 306h1v1h1v1h-2z"/>
<path fill="#000000" d="M311 307h1v1h1v1h-2z"/>
<path fill="#00ffb0" d="M309 308h1v1h1v1h-2z"/>
<path fill="#46005a" d="M316 305h1v1h1v1h-1v1h-1v-1h-1v-1h1z"/>
<path fill="#000000" d="M321 310h3v1h-1v1h-1v-1h-1z"/>
<path fill="#ff8000" d="M316 312h1v3h-1v-1h-1v-1h1z"/>
<path fill="#3c00ff" d="M296 322h1v1h1v1h-1v1h-1z"/>
<path fill="#ff0000" d="M333 326h3v1h-1v1h-1v-1h-1z"/>
<path fill="#ff0000" d="M308 353h1v3h-1v-1h-1v-1h1z"/>
<path fill="#ff0000" d="M369 320h1v1h1v1h-1v1h-1v-1h-1v-1h1z"/>
<path fill="#ff0000" d="M358 330h1v1h1v1h-2z"/>
<path fill="#ff0000" d="M387 308h1v1h1v1h-1v1h-1z"/>
<path fill="#ff0000" d="M384 312h1v1h1v1h-2z"/>
<path fill="#ff0000" d="M384 314h1v1h1v1h-2z"/>
<path fill="#ff0000" d="M383 315h1v1h1v1h-2z"/>
<path fill="#ff0000" d="M394 320h1v1h1v1h-2z"/>
<path fill="#00ff00" d="M347 353h1v3h-1v-1h-1v-1h1z"/>
<path fill="#ff0000" d="M269 358h1v3h-1v-1h-1v-1h1z"/>
<path fill="#ff0000" d="M275 370h3v1h-1v1h-1v-1h-1z"/>
<path fill="#000000" d="M326 367h1v1h1v1h-1v1h-1v-1h-1v-1h1z"/>
<path fill="#00ff00" d="M328 366h1v1h1v1h-1v1h-1z"/>
<path fill="#0050ff" d="M326 371h1v1h1v1h-1v1h-1v-1h-1v-1h1z"/>
<path fill="#000000" d="M312 374h1v1h1v1h-1v1h-1z"/>
<path fill="#000000" d="M281 398h3v1h-1v1h-1v-1h-1z"/>
<path fill="#ff0000" d="M376 360h1v1h1v1h-2z"/>
<path fill="#5000c8" d="M403 384h1v1h1v1h-1v1h-1v-1h-1v-1h1z"/>
<path fill="#00ffff" d="M420 364h1v3h-1v-1h-1v-1h1z"/>
<path fill="#ff0000" d="M424 380h1v1h1v1h-1v1h-1z"/>
<path fill="#000000" d="M432 324h1v1h1v1h-1v1h-1v-1h-1v-1h1z"/>
<path fill="#46005a" d="M527 341h1v1h1v1h-2z"/>
</g>
</svg></body></html>
